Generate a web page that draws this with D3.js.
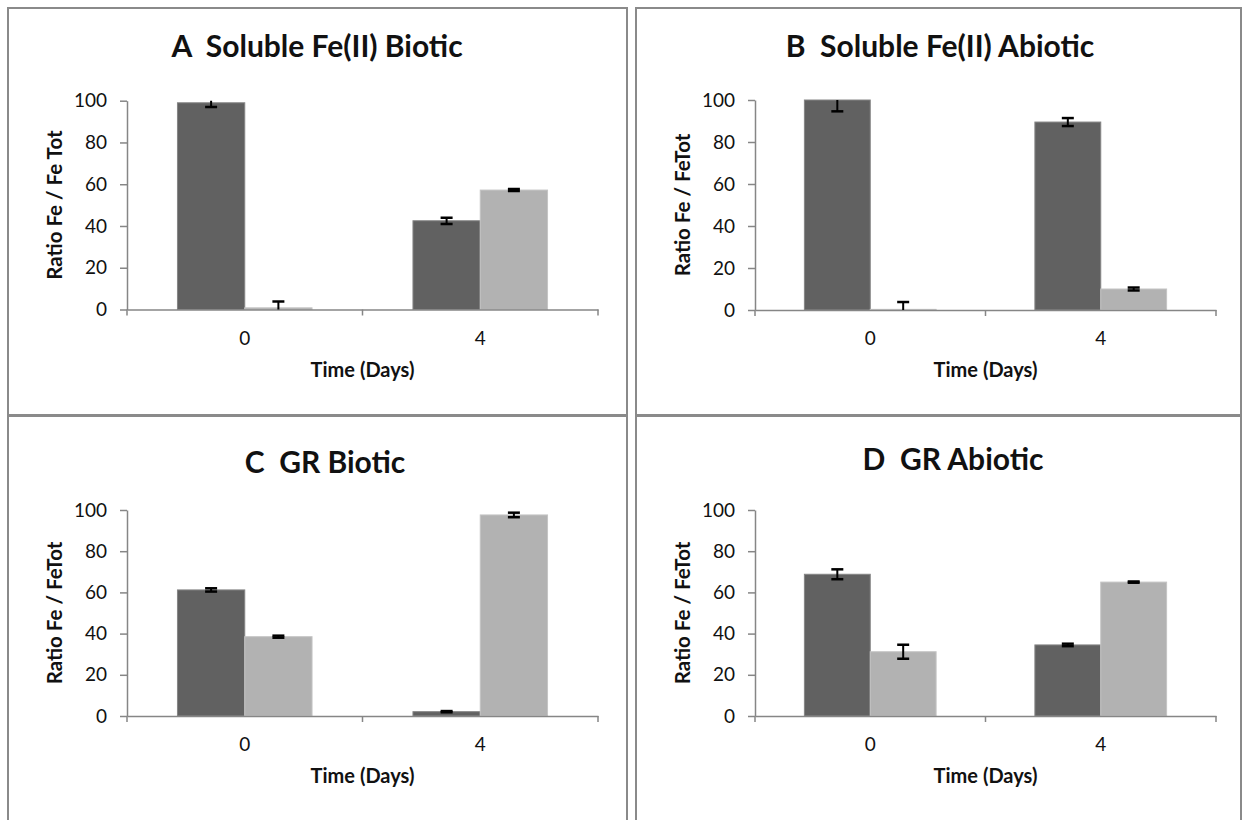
<!DOCTYPE html>
<html>
<head>
<meta charset="utf-8">
<script src="https://cdn.jsdelivr.net/npm/d3@7"></script>
<style>
  body { margin: 0; background: #fff; }
  text { font-family: Lato, 'Open Sans', sans-serif; fill: #111; }
</style>
</head>
<body>
<script>
// DATA: ONE ENTRY PER PANEL (A, B, C, D), TWO CATEGORIES EACH
var categories = ['0', '4']
var yTicks = [0, 20, 40, 60, 80, 100]
var panelTitles = ['A  Soluble Fe(II) Biotic', 'B  Soluble Fe(II) Abiotic', 'C  GR Biotic', 'D  GR Abiotic']
var yTitles = ['Ratio Fe / Fe Tot', 'Ratio Fe / FeTot', 'Ratio Fe / FeTot', 'Ratio Fe / FeTot']
var xTitle = 'Time (Days)'

var darkValues = [[99, 42.5], [100, 89.5], [61.2, 2.1], [68.8, 34.5]]
var darkErrors = [[2, 1.5], [5.4, 1.9], [0.8, 0.3], [2.4, 0.6]]
var lightValues = [[0.8, 57.2], [0.3, 10], [38.5, 97.6], [31.2, 65]]
var lightErrors = [[3, 0.5], [3.5, 0.7], [0.5, 1.1], [3.4, 0.3]]

var colors = ['#616161', '#b2b2b2']
var edges = ['#858585', '#c4c4c4']

// PANEL FRAMES AND PLOT AREAS (PIXELS)
var layout = [
  { px: 8, py: 8, pw: 619, ph: 407, left: 127, right: 598, top: 100.7, bottom: 309.5, tx: 317, ty: 57 },
  { px: 636, py: 8, pw: 605, ph: 407, left: 755, right: 1216, top: 100, bottom: 310, tx: 940, ty: 57 },
  { px: 8, py: 416, pw: 619, ph: 420, left: 127, right: 598, top: 510, bottom: 716, tx: 325, ty: 473 },
  { px: 636, py: 416, pw: 605, ph: 420, left: 755, right: 1216, top: 510, bottom: 716, tx: 953, ty: 470 }
]

var svg = d3.select('body')
            .append('svg')
            .attr('width', 1244)
            .attr('height', 820)

layout.forEach(function (L, p) {
  var g = svg.append('g')

  // FRAME
  g.append('rect')
    .attr('x', L.px)
    .attr('y', L.py)
    .attr('width', L.pw)
    .attr('height', L.ph)
    .attr('fill', '#fff')
    .attr('stroke', '#8a8a8a')
    .attr('stroke-width', 2)

  // TITLE
  g.append('text')
    .attr('x', L.tx)
    .attr('y', L.ty)
    .attr('text-anchor', 'middle')
    .style('white-space', 'pre')
    .style('font-weight', 'bold')
    .style('font-size', '30px')
    .text(panelTitles[p])

  // EXCEL STYLE GAP WIDTH 150%: BAR = 1 UNIT, GAP = 1.5 UNITS
  var x0 = d3.scaleBand()
            .domain(categories)
            .range([L.left, L.right])
            .paddingInner(1.5 / 3.5)
            .paddingOuter(0.75 / 3.5)

  var x1 = d3.scaleBand()
            .domain([0, 1])
            .range([0, x0.bandwidth()])

  var y = d3.scaleLinear()
            .domain([0, 100])
            .range([L.bottom, L.top])

  var clipId = 'clip' + p
  g.append('clipPath')
    .attr('id', clipId)
    .append('rect')
      .attr('x', L.left)
      .attr('y', L.top)
      .attr('width', L.right - L.left)
      .attr('height', L.bottom - L.top)

  var series = [
    { values: darkValues[p], errors: darkErrors[p] },
    { values: lightValues[p], errors: lightErrors[p] }
  ]

  // BARS
  series.forEach(function (s, si) {
    g.selectAll('.bar' + si)
      .data(categories)
      .enter()
        .append('rect')
        .attr('x', function (d) { return x0(d) + x1(si) })
        .attr('y', function (d, i) { return y(s.values[i]) })
        .attr('width', x1.bandwidth())
        .attr('height', function (d, i) { return y(0) - y(s.values[i]) })
        .attr('fill', colors[si])
        .attr('stroke', edges[si])
        .attr('stroke-width', 1)
  })

  // Y AXIS
  var yAxis = g.append('g')
    .attr('transform', 'translate(' + L.left + ',0)')
    .call(d3.axisLeft(y).tickValues(yTicks).tickSize(7).tickSizeOuter(0).tickPadding(13))
  yAxis.select('.domain').attr('stroke', '#868686').attr('stroke-width', 1.5)
  yAxis.selectAll('.tick line').attr('stroke', '#868686').attr('stroke-width', 1.5)
  yAxis.selectAll('.tick text')
    .style('font-size', '19px')
    .style('font-family', 'Lato, sans-serif')
    .attr('fill', '#111')

  // X AXIS LINE + TICKS BETWEEN CATEGORIES
  var xAxis = g.append('g')
    .attr('transform', 'translate(0,' + L.bottom + ')')
    .call(d3.axisBottom(x0).tickSize(0).tickSizeOuter(0).tickPadding(22))
  xAxis.select('.domain').attr('stroke', '#868686').attr('stroke-width', 1.5)
  xAxis.selectAll('.tick text')
    .style('font-size', '19px')
    .style('font-family', 'Lato, sans-serif')
    .attr('fill', '#111')

  g.selectAll('.xtick')
    .data(d3.range(categories.length + 1))
    .enter()
      .append('line')
      .attr('x1', function (d) { return L.left + d * x0.step() })
      .attr('x2', function (d) { return L.left + d * x0.step() })
      .attr('y1', L.bottom)
      .attr('y2', L.bottom + 6)
      .attr('stroke', '#868686')
      .attr('stroke-width', 1.5)

  // ERROR BARS, CLIPPED TO THE PLOT AREA LIKE EXCEL
  var eb = g.append('g').attr('clip-path', 'url(#' + clipId + ')')
  series.forEach(function (s, si) {
    categories.forEach(function (c, i) {
      var cx = x0(c) + x1(si) + x1.bandwidth() / 2
      var lo = y(s.values[i] - s.errors[i])
      var hi = y(s.values[i] + s.errors[i])
      eb.append('line')
        .attr('x1', cx).attr('x2', cx)
        .attr('y1', lo).attr('y2', hi)
        .attr('stroke', '#000').attr('stroke-width', 2)
      ;[lo, hi].forEach(function (yy) {
        eb.append('line')
          .attr('x1', cx - 6).attr('x2', cx + 6)
          .attr('y1', yy).attr('y2', yy)
          .attr('stroke', '#000').attr('stroke-width', 2.5)
      })
    })
  })

  // AXIS TITLES
  g.append('text')
    .attr('x', (L.left + L.right) / 2)
    .attr('y', L.bottom + 67)
    .attr('text-anchor', 'middle')
    .style('font-weight', 'bold')
    .style('font-size', '20px')
    .text(xTitle)

  g.append('text')
    .attr('transform', 'translate(' + (L.left - 72) + ',' + (L.top + L.bottom) / 2 + ') rotate(-90)')
    .attr('dy', '0.35em')
    .attr('text-anchor', 'middle')
    .style('font-weight', 'bold')
    .style('font-size', '20.5px')
    .text(yTitles[p])
})
</script>
</body>
</html>
